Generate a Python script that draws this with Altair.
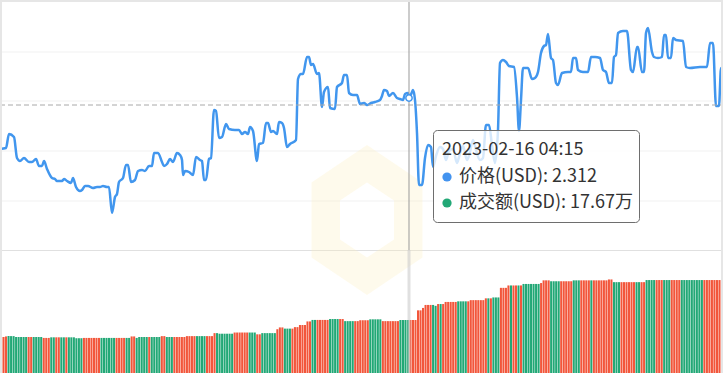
import altair as alt
import pandas as pd

# ---------------- data ----------------
# price series: minutes since window start, price in USD
price_minutes = [0, 12, 18, 28, 34, 40, 48, 58, 64, 72, 78, 84, 88, 94, 104, 110, 114, 124, 128, 134,
                 142, 146, 152, 160, 164, 170, 176, 186, 194, 200, 206, 214, 218, 224, 230, 234, 238, 246, 252, 256,
                 262, 270, 276, 284, 290, 298, 304, 308, 316, 324, 328, 334, 340, 346, 354, 360, 364, 366, 370, 378,
                 386, 392, 400, 404, 408, 412, 418, 422, 428, 432, 438, 444, 452, 458, 470, 478, 484, 490, 496, 500,
                 506, 514, 518, 526, 532, 536, 542, 546, 554, 558, 564, 568, 574, 580, 592, 596, 602, 606, 614, 618,
                 622, 626, 634, 638, 644, 648, 656, 660, 670, 674, 684, 688, 694, 698, 706, 714, 720, 728, 734, 742,
                 750, 760, 764, 768, 774, 778, 786, 794, 800, 806, 810, 816, 818, 824, 826, 830, 834, 838, 844, 850,
                 856, 862, 866, 872, 880, 886, 892, 898, 906, 914, 918, 926, 934, 940, 946, 952, 960, 966, 972, 978,
                 984, 990, 996, 1000, 1006, 1012, 1018, 1028, 1034, 1038, 1042, 1046, 1056, 1064, 1070, 1076, 1082, 1088, 1092, 1096,
                 1102, 1106, 1112, 1116, 1124, 1136, 1142, 1146, 1152, 1156, 1166, 1176, 1182, 1190, 1200, 1206, 1212, 1218, 1224, 1228,
                 1232, 1236, 1246, 1254, 1262, 1266, 1274, 1276, 1284, 1288, 1292, 1296, 1304, 1308, 1316, 1324, 1328, 1332, 1336, 1342,
                 1346, 1352, 1366, 1372, 1380, 1400, 1414, 1420, 1426, 1432, 1438, 1442, 1446]
price_values = [2.210, 2.212, 2.240, 2.234, 2.192, 2.186, 2.192, 2.184, 2.184, 2.190, 2.176, 2.176, 2.186, 2.170, 2.152, 2.150, 2.146, 2.146, 2.150, 2.146,
                2.142, 2.152, 2.134, 2.126, 2.128, 2.136, 2.136, 2.132, 2.134, 2.134, 2.136, 2.134, 2.134, 2.082, 2.114, 2.120, 2.144, 2.152, 2.178, 2.178,
                2.144, 2.148, 2.166, 2.168, 2.166, 2.176, 2.176, 2.202, 2.202, 2.184, 2.176, 2.180, 2.190, 2.184, 2.202, 2.198, 2.188, 2.158, 2.166, 2.164,
                2.158, 2.194, 2.188, 2.186, 2.148, 2.148, 2.190, 2.192, 2.288, 2.286, 2.232, 2.234, 2.260, 2.250, 2.248, 2.248, 2.240, 2.244, 2.240, 2.254,
                2.246, 2.186, 2.220, 2.222, 2.262, 2.262, 2.244, 2.246, 2.240, 2.264, 2.262, 2.252, 2.214, 2.220, 2.228, 2.350, 2.360, 2.360, 2.394, 2.394,
                2.378, 2.380, 2.360, 2.362, 2.294, 2.324, 2.334, 2.292, 2.290, 2.334, 2.342, 2.358, 2.358, 2.322, 2.318, 2.318, 2.300, 2.302, 2.298, 2.302,
                2.304, 2.308, 2.316, 2.328, 2.326, 2.316, 2.322, 2.312, 2.310, 2.308, 2.320, 2.322, 2.312, 2.324, 2.328, 2.308, 2.242, 2.138, 2.138, 2.192,
                2.218, 2.214, 2.174, 2.196, 2.214, 2.210, 2.188, 2.206, 2.210, 2.182, 2.194, 2.216, 2.188, 2.204, 2.228, 2.208, 2.188, 2.192, 2.258, 2.258,
                2.218, 2.182, 2.248, 2.382, 2.388, 2.384, 2.376, 2.374, 2.314, 2.246, 2.308, 2.372, 2.372, 2.350, 2.352, 2.364, 2.402, 2.416, 2.418, 2.440,
                2.392, 2.388, 2.342, 2.338, 2.362, 2.364, 2.364, 2.392, 2.392, 2.368, 2.364, 2.364, 2.394, 2.394, 2.392, 2.368, 2.364, 2.342, 2.342, 2.394,
                2.398, 2.442, 2.446, 2.446, 2.368, 2.364, 2.414, 2.414, 2.364, 2.364, 2.442, 2.452, 2.404, 2.394, 2.392, 2.394, 2.438, 2.438, 2.392, 2.392,
                2.432, 2.428, 2.426, 2.374, 2.372, 2.374, 2.374, 2.422, 2.422, 2.296, 2.296, 2.372, 2.372]

# trading volume (万 USD) as (level, number of 5-minute bars)
volume_runs = [(12.0, 2), (12.2, 1), (12.3, 3), (12.0, 11), (11.7, 3), (11.9, 10), (11.6, 3), (11.7, 19),
               (12.2, 2), (11.7, 1), (12.0, 9), (12.3, 2), (12.0, 8), (12.3, 11), (13.3, 2), (13.1, 6),
               (13.5, 9), (12.9, 2), (13.3, 6), (14.6, 1), (15.2, 2), (14.8, 4), (15.3, 2), (16.0, 3),
               (17.2, 2), (17.7, 7), (18.0, 6), (17.3, 6), (17.6, 4), (17.9, 5), (17.3, 7), (17.67, 7),
               (20.9, 2), (21.7, 1), (22.7, 4), (22.4, 1), (23.0, 3), (23.7, 5), (23.9, 5), (24.3, 6),
               (24.9, 3), (25.2, 3), (28.4, 3), (29.2, 6), (29.7, 7), (30.0, 1), (30.9, 3), (30.6, 9),
               (30.9, 14), (31.2, 2), (30.3, 13), (31.0, 31)]
# bar colour (R = up / red, G = down / green) as runs
color_runs = [("R", 3), ("G", 8), ("R", 2), ("G", 4), ("R", 3), ("G", 2), ("R", 2), ("G", 2), ("R", 1), ("G", 6),
              ("R", 7), ("G", 6), ("R", 4), ("G", 2), ("R", 2), ("G", 5), ("R", 1), ("G", 4), ("R", 2), ("G", 3),
              ("R", 9), ("G", 4), ("R", 4), ("G", 7), ("R", 6), ("G", 3), ("R", 2), ("G", 6), ("R", 3), ("G", 3),
              ("R", 8), ("G", 2), ("R", 5), ("G", 4), ("R", 2), ("G", 4), ("R", 6), ("G", 5), ("R", 7), ("G", 4),
              ("R", 9), ("G", 2), ("R", 1), ("G", 1), ("R", 6), ("G", 4), ("R", 8), ("G", 1), ("R", 1), ("G", 3),
              ("R", 4), ("G", 1), ("R", 2), ("G", 1), ("R", 1), ("G", 7), ("R", 4), ("G", 4), ("R", 5), ("G", 3),
              ("R", 4), ("G", 1), ("R", 8), ("G", 3), ("R", 6), ("G", 2), ("R", 2), ("G", 4), ("R", 3), ("G", 3),
              ("R", 4), ("G", 9), ("R", 8)]

hover_minute = 818
hover_price = 2.312
tooltip_lines = ["2023-02-16 04:15", "价格(USD): 2.312", "成交额(USD): 17.67万"]

# ---------------- styling ----------------
W, H = 723, 373
X_DOMAIN = [0, 1446]
P_DOMAIN = [1.762, 2.508]
V_DOMAIN = [0, 124.4]
LINE_BLUE = "#4196ee"
RED = "#f2563b"
GREEN = "#22a876"
FONT = "Noto Sans CJK SC"

vols, cols = [], []
for v, n in volume_runs:
    vols += [v] * n
for c, n in color_runs:
    cols += [c] * n
n_bars = min(len(vols), len(cols))
bars_df = pd.DataFrame({"i": list(range(n_bars)), "v": vols[:n_bars], "c": cols[:n_bars]})
price_df = pd.DataFrame({"m": price_minutes, "p": price_values})
hover_df = pd.DataFrame({"m": [hover_minute], "p": [hover_price]})

xq = alt.X("m:Q", scale=alt.Scale(domain=X_DOMAIN, nice=False, zero=False), axis=None)
yp = alt.Y("p:Q", scale=alt.Scale(domain=P_DOMAIN, nice=False, zero=False), axis=None)

one = pd.DataFrame({"k": [0]})

# frame & grid
grid_rows = pd.DataFrame({"y": [52, 101, 151, 201]})
grid = alt.Chart(grid_rows).mark_rule(color="#f1f1f1", strokeWidth=1).encode(
    y=alt.Y("y:Q", scale=alt.Scale(domain=[0, H], range=[0, H], nice=False, zero=False), axis=None),
    x=alt.value(0), x2=alt.value(W))
separator = alt.Chart(one).mark_rule(color="#e0e0e0", strokeWidth=1).encode(
    y=alt.value(250.5), x=alt.value(0), x2=alt.value(W))
top_border = alt.Chart(one).mark_rule(color="#e6e6e6", strokeWidth=2).encode(
    y=alt.value(1), x=alt.value(0), x2=alt.value(W))
left_border = alt.Chart(one).mark_rule(color="#e6e6e6", strokeWidth=2).encode(
    x=alt.value(1), y=alt.value(0), y2=alt.value(H))
right_border = alt.Chart(one).mark_rule(color="#e6e6e6", strokeWidth=2).encode(
    x=alt.value(722), y=alt.value(0), y2=alt.value(H))

# watermark logo (faint hexagon)
logo_path = ("M0,-1 L0.74,-0.5 L0.74,0.5 L0,1 L-0.74,0.5 L-0.74,-0.5 Z "
             "M0,-0.5 L-0.36,-0.26 L-0.36,0.26 L0,0.5 L0.36,0.26 L0.36,-0.26 Z")
logo = alt.Chart(one).mark_point(shape=logo_path, filled=True, fill="#fcefc0", opacity=0.3,
                                 strokeWidth=0, size=22500).encode(x=alt.value(367), y=alt.value(220))

# volume bars
bars = alt.Chart(bars_df).mark_bar().encode(
    x=alt.X("i:O", scale=alt.Scale(paddingInner=0.18, paddingOuter=0), axis=None),
    y=alt.Y("v:Q", scale=alt.Scale(domain=V_DOMAIN, nice=False, zero=True), axis=None),
    color=alt.Color("c:N", scale=alt.Scale(domain=["R", "G"], range=[RED, GREEN]), legend=None),
)

# price line
line = alt.Chart(price_df).mark_line(color=LINE_BLUE, strokeWidth=2.5, interpolate="monotone",
                                     strokeJoin="round").encode(x=xq, y=yp)

# crosshair
v_rule_top = alt.Chart(hover_df).mark_rule(color="#999999", strokeWidth=1).encode(
    x=xq, y=alt.value(2), y2=alt.value(250))
v_rule_bottom = alt.Chart(hover_df).mark_rule(color="#cccccc", strokeWidth=3, opacity=0.6).encode(
    x=xq, y=alt.value(250), y2=alt.value(H))
h_rule = alt.Chart(one).mark_rule(color="#a8a8a8", strokeWidth=1, strokeDash=[5, 3]).encode(
    y=alt.value(105), x=alt.value(0), x2=alt.value(W))
marker = alt.Chart(hover_df).mark_point(filled=True, fill="white", stroke=LINE_BLUE, strokeWidth=1.5,
                                        size=40, opacity=1).encode(x=xq, y=yp)

# tooltip box
tip_box = alt.Chart(one).mark_rect(fill="white", fillOpacity=0.78, stroke="#6e6e6e", strokeWidth=1,
                                   cornerRadius=4).encode(
    x=alt.value(433.5), x2=alt.value(639.5), y=alt.value(130.5), y2=alt.value(222.5))
tip_title = alt.Chart(one).mark_text(text=tooltip_lines[0], font=FONT, fontSize=18, color="#333333",
                                     align="left", baseline="middle").encode(x=alt.value(442), y=alt.value(150))
tip_l2 = alt.Chart(one).mark_text(text=tooltip_lines[1], font=FONT, fontSize=18, color="#333333",
                                  align="left", baseline="middle").encode(x=alt.value(459), y=alt.value(177))
tip_l3 = alt.Chart(one).mark_text(text=tooltip_lines[2], font=FONT, fontSize=18, color="#333333",
                                  align="left", baseline="middle").encode(x=alt.value(459), y=alt.value(203))
dot1 = alt.Chart(one).mark_circle(color="#4393ef", size=85, opacity=1).encode(
    x=alt.value(447), y=alt.value(177))
dot2 = alt.Chart(one).mark_circle(color=GREEN, size=85, opacity=1).encode(
    x=alt.value(447), y=alt.value(203))

chart = alt.layer(
    grid, separator, logo, bars, v_rule_bottom, line, v_rule_top, h_rule, marker,
    top_border, left_border, right_border,
    tip_box, tip_title, tip_l2, tip_l3, dot1, dot2,
).resolve_scale(x="independent", y="independent", color="independent").properties(
    width=W, height=H, padding=0, autosize=alt.AutoSizeParams(type="none"),
    background="white",
).configure_view(stroke=None)

chart.save("out.html", embed_options={"renderer": "svg", "actions": False})
